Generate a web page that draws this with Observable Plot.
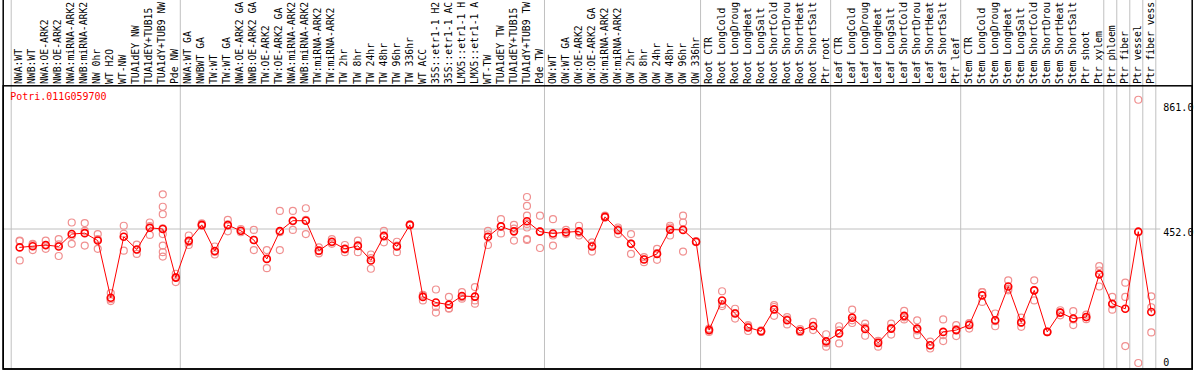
<!DOCTYPE html>
<html><head><meta charset="utf-8">
<script src="https://cdn.jsdelivr.net/npm/d3@7"></script>
<script src="https://cdn.jsdelivr.net/npm/@observablehq/plot@0.6"></script>
<style>body{margin:0;background:#fff} svg{display:block}</style>
</head><body><div id="chart"></div>
<script>
const title = "Potri.011G059700";
const labels = [
"NWA:WT","NWB:WT","NWA:OE-ARK2","NWB:OE-ARK2","NWA:miRNA-ARK2","NWB:miRNA-ARK2","NW 0hr","WT H2O","WT-NW","TUA1dEY NW","TUA1dEY+TUB15","TUA1dY+TUB9 NW","Pde NW",
"NWA:WT GA","NWBWT GA","TW:WT","TW:WT GA","NWA:OE-ARK2 GA","NWB:OE-ARK2 GA","TW:OE-ARK2","TW:OE-ARK2 GA","NWA:miRNA-ARK2","NWB:miRNA-ARK2","TW:miRNA-ARK2","TW:miRNA-ARK2",
"TW 2hr","TW 8hr","TW 24hr","TW 48hr","TW 96hr","TW 336hr","WT ACC","35S::etr1-1 H2","35S::etr1-1 AC","LMX5::etr1-1 H","LMX5::etr1-1 A","WT-TW","TUA1dEY TW","TUA1dEY+TUB15","TUA1dY+TUB9 TW","Pde TW",
"OW:WT","OW:WT GA","OW:OE-ARK2","OW:OE-ARK2 GA","OW:miRNA-ARK2","OW:miRNA-ARK2","OW 2hr","OW 8hr","OW 24hr","OW 48hr","OW 96hr","OW 336hr",
"Root CTR","Root LongCold","Root LongDroug","Root LongHeat","Root LongSalt","Root ShortCold","Root ShortDrou","Root ShortHeat","Root ShortSalt","Ptr root",
"Leaf CTR","Leaf LongCold","Leaf LongDroug","Leaf LongHeat","Leaf LongSalt","Leaf ShortCold","Leaf ShortDrou","Leaf ShortHeat","Leaf ShortSalt","Ptr leaf",
"Stem CTR","Stem LongCold","Stem LongDroug","Stem LongHeat","Stem LongSalt","Stem ShortCold","Stem ShortDrou","Stem ShortHeat","Stem ShortSalt","Ptr shoot","Ptr xylem",
"Ptr phloem","Ptr fiber","Ptr vessel","Ptr fiber vess"
];
const means = [
390,394,398,393,435,438,413,220,426,383,456,452,288,
412,466,378,465,446,415,351,445,480,480,379,409,
385,395,346,428,393,466,223,204,197,226,224,426,461,444,478,443,
437,441,444,393,493,448,402,349,368,450,449,409,
111,211,167,120,107,181,144,108,125,73,
100,153,115,68,116,159,116,60,105,111,
128,228,144,258,137,245,105,170,150,155,299,
200,183,443,172
];
const reps = [
[413,346,411],[402,381,399],[413,385,396],[418,361,400],[474,402,429],[472,396,446],[435,385,418],[236,209,215],[463,379,436],[399,368,382],[474,432,462],[569,527,502,454,435,396,374,359],[301,273,290],
[430,398,408],[471,463,464],[393,366,375],[483,444,468],[452,441,445],[449,381,415],[381,320,352],[513,381,441],[513,449,478],[522,435,483],[390,370,377],[418,402,407],
[398,374,383],[413,374,398],[366,318,354],[446,407,431],[409,374,396],[468,465,465],[228,211,230],[248,170,189],[223,183,185],[239,217,222],[256,200,211],[446,398,434],[485,437,461],[466,413,453],[560,530,497,469,457,418,415],[497,388,444],
[485,396,430],[449,435,439],[463,430,439],[407,376,396],[497,491,491],[457,435,452],[435,368,403],[357,340,350],[385,348,371],[463,430,457],[497,474,376],[411,408,408],
[116,105,112],[242,192,199],[183,150,168],[128,108,124],[110,105,106],[195,159,189],[155,130,147],[114,105,105],[139,111,125],[97,55,67],
[124,66,110],[180,135,144],[133,92,120],[74,55,75],[133,96,119],[176,147,154],[144,94,110],[72,49,59],[147,74,94],[128,91,114],
[135,116,133],[239,206,239],[167,124,141],[279,245,250],[153,122,136],[279,211,245],[106,104,105],[178,161,171],[175,128,147],[163,148,154],[327,258,312],
[223,180,197],[271,223,57],[888,0,441],[225,103,188]
];
const yTicks = [0, 452, 861];
const yTickLabels = ["0", "452.0", "861.0"];
const gridValues = [452];
const groupStarts = [0, 13, 41, 53, 63, 73, 84, 85, 86, 87, 88];

const rows = means.map((v, i) => ({i, v}));
const repRows = reps.flatMap((vs, i) => vs.map(v => ({i, v})));
const tickRows = yTicks.map((v, i) => ({v, s: yTickLabels[i]}));

const plot = Plot.plot({
  width: 1194, height: 370,
  marginTop: 85.3, marginBottom: 1.5, marginLeft: 10.7, marginRight: 38.7,
  x: {type: "linear", domain: [-0.5, labels.length - 0.5], axis: null},
  y: {type: "linear", domain: [-20.2, 935], axis: null},
  style: {fontFamily: "'DejaVu Sans Mono', monospace", fontSize: "10px", background: "white", color: "black"},
  marks: [
    Plot.ruleX(groupStarts, {x: d => d - 0.5, stroke: "#c0c0c0", strokeWidth: 1, strokeOpacity: 1, insetTop: -86}),
    Plot.ruleY(gridValues, {stroke: "#c0c0c0", strokeWidth: 1, strokeOpacity: 1, insetLeft: -8, insetRight: -5}),
    Plot.dot(repRows, {x: "i", y: "v", r: 3.5, stroke: "#f09090", strokeWidth: 1.2, dx: 2}),
    Plot.line(rows, {x: "i", y: "v", stroke: "#ff0000", strokeWidth: 1, dx: 2}),
    Plot.dot(rows, {x: "i", y: "v", r: 3.5, stroke: "#ff0000", strokeWidth: 1.6, dx: 2}),
    Plot.text(labels, {x: (d, i) => i, text: d => d, frameAnchor: "top", rotate: -90, textAnchor: "start", lineAnchor: "middle", dy: -1.8, dx: 1.5, fill: "black", fontSize: 9.75}),
    Plot.text([title], {frameAnchor: "top-left", text: d => d, fill: "#ff0000", dy: 7, dx: -1, textAnchor: "start", lineAnchor: "top"}),
    Plot.text(tickRows.filter(d => !gridValues.includes(d.v)), {y: "v", text: "s", frameAnchor: "right", textAnchor: "start", dx: 7.5, fill: "black"}),
    Plot.text(tickRows.filter(d => gridValues.includes(d.v)), {y: "v", text: "s", frameAnchor: "right", textAnchor: "start", dx: 7.5, dy: 4, fill: "black"}),
    Plot.frame({stroke: "black", strokeWidth: 1.5, insetLeft: -8, insetRight: -36.4}),
    Plot.frame({stroke: "black", strokeWidth: 1.5, insetLeft: -8, insetRight: -36.4, insetTop: -90})
  ]
});
document.getElementById("chart").appendChild(plot);
</script>
</body></html>
